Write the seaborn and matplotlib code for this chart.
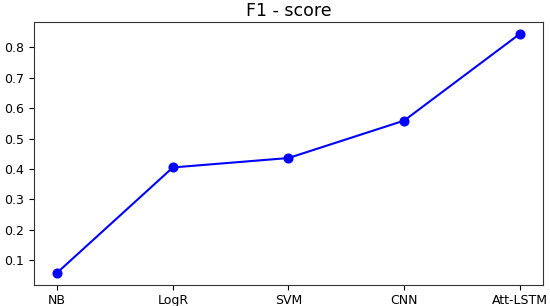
import matplotlib
matplotlib.use("Agg")
import matplotlib.pyplot as plt
import seaborn as sns
import pandas as pd

models = ["NB", "LogR", "SVM", "CNN", "Att-LSTM"]
f1_scores = [0.059, 0.405, 0.436, 0.559, 0.844]

df = pd.DataFrame({"model": models, "f1": f1_scores, "pos": range(len(models))})

fig = plt.figure(figsize=(5.5, 3.06), dpi=100)
ax = fig.add_axes([0.062, 0.070, 0.925, 0.858])
sns.lineplot(data=df, x="pos", y="f1", ax=ax, color="blue", marker="o",
             markersize=6.5, markeredgecolor="blue", linewidth=1.5)
ax.set_xticks(range(len(models)))
ax.set_xticklabels(models)
ax.set_xlabel("")
ax.set_ylabel("")
ax.set_yticks([0.1, 0.2, 0.3, 0.4, 0.5, 0.6, 0.7, 0.8])
ax.tick_params(labelsize=9)
for s in ax.spines.values():
    s.set_color("#333333")
ax.set_title("F1 - score", fontsize=12.5, pad=4)
fig.savefig("out.png", dpi=100)
